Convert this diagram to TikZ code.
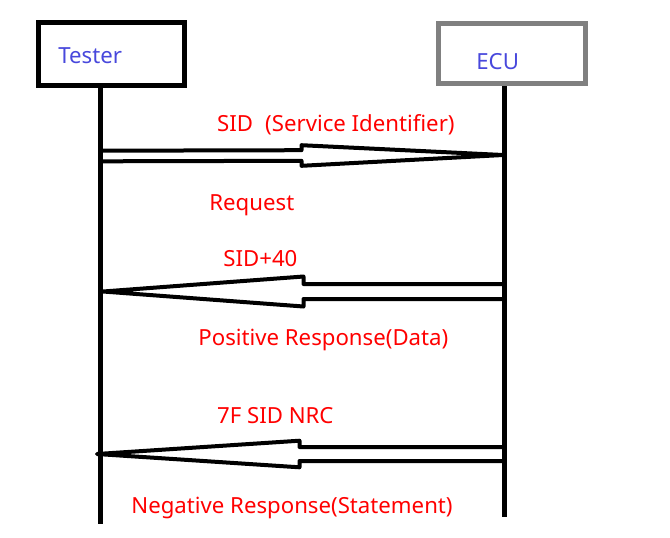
\documentclass[tikz,border=0pt]{standalone}
\usepackage{fontspec}
\setmainfont{Noto Sans}
\usetikzlibrary{calc}

\definecolor{namecol}{RGB}{72,72,220}
\definecolor{ecugray}{RGB}{128,128,128}

\tikzset{
  actorbox/.style={draw, line width=2.5pt, inner sep=0pt},
  actorname/.style={text=namecol, inner sep=0pt, anchor=base west, font=\fontsize{11.1}{14}\selectfont},
  msglabel/.style={text=red, inner sep=0pt, anchor=base west, font=\fontsize{11.1}{14}\selectfont},
  lifeline/.style={line width=2.5pt},
  msg/.style={line width=2pt, line join=round, line cap=round}
}

% block arrow: tail, tip, half shaft, half head
\newcommand{\msgarrow}[4]{%
  \draw[msg] ($(#1)+(0,#3)$) -- ($(#1)!.5!(#2)+(0,#3)$) -- ($(#1)!.5!(#2)+(0,#4)$) -- (#2)
    -- ($(#1)!.5!(#2)+(0,-#4)$) -- ($(#1)!.5!(#2)+(0,-#3)$) -- ($(#1)+(0,-#3)$);
}

\begin{document}
\begin{tikzpicture}[x=0.5pt, y=-0.5pt]
        \useasboundingbox (0,0) rectangle (670,537);

        % Boxes
        \node[actorbox, minimum width=72.75pt, minimum height=31.5pt] (testerbox) at (111.25,54) {};
        \node[actorbox, draw=ecugray, minimum width=73.5pt, minimum height=30pt] (ecubox) at (512,53.5) {};
        \node[actorname] (testername) at (58,63) {Tester};
        \node[actorname] (ecuname) at (476,69.3) {ECU};

        % Lifelines
        \coordinate (testerend) at (100,524);
        \coordinate (ecuend) at (504,517);
        \draw[lifeline] (testerbox.south -| testerend) -- (testerend);
        \draw[lifeline] (ecubox.south -| ecuend) -- (ecuend);

        % Request
        \coordinate (t1) at (100,156);
        \coordinate (e1) at (503,155);
        \msgarrow{t1}{e1}{5.3}{10.3}
        \node[msglabel] (sidlbl) at (216.7,131.7) {SID\hspace{0.55em}(Service Identifier)};
        \node[msglabel] (reqlbl) at (209,210) {Request};

        % Positive response
        \coordinate (e2) at (504,291.5);
        \coordinate (t2) at (103,291.5);
        \msgarrow{e2}{t2}{7.5}{15}
        \node[msglabel] (poslbl) at (223,266.7) {SID+40};
        \node[msglabel] (posdata) at (198,345) {Positive Response(Data)};

        % Negative response
        \coordinate (e3) at (502,454);
        \coordinate (t3) at (97,454);
        \msgarrow{e3}{t3}{7}{13.3}
        \node[msglabel] (neglbl) at (216.7,423) {7F SID NRC};
        \node[msglabel] (negstate) at (131,513) {Negative Response(Statement)};
\end{tikzpicture}
\end{document}
